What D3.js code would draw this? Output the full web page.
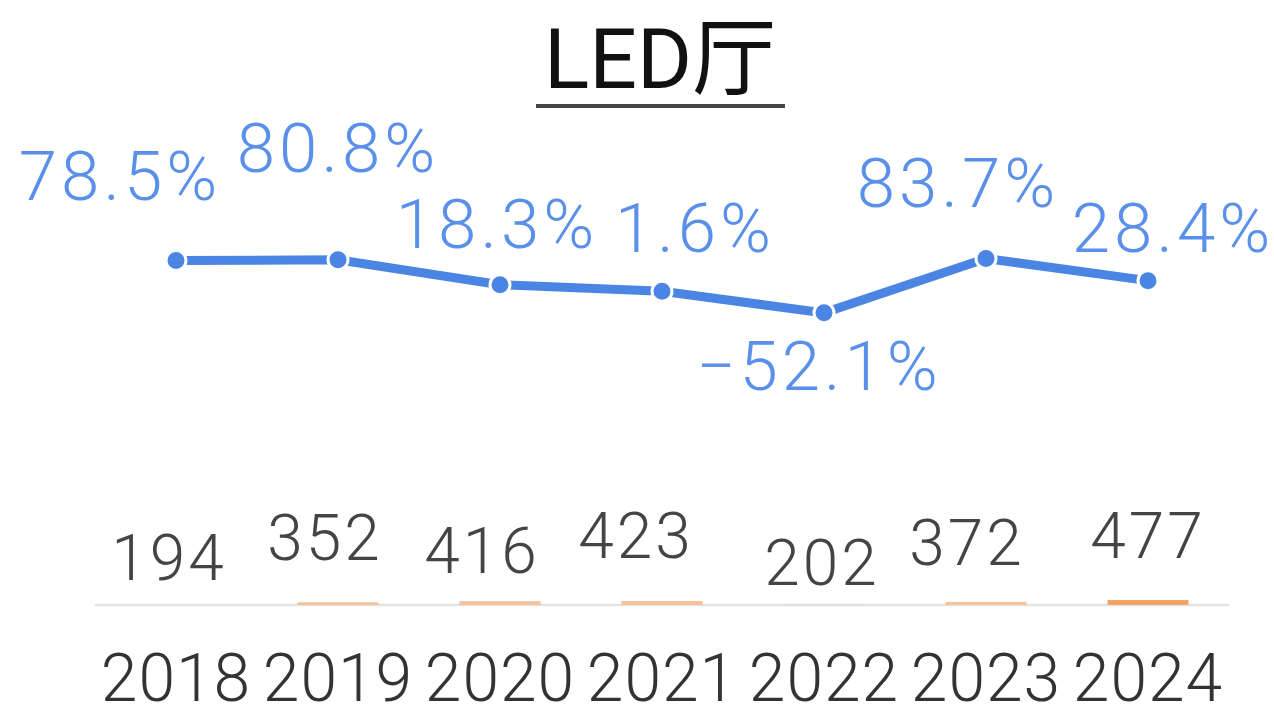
<!DOCTYPE html>
<html>
<head>
<meta charset="utf-8">
<script src="https://cdn.jsdelivr.net/npm/d3@7"></script>
<style>
  body { margin: 0; background: #fff; }
  text { font-family: Roboto, "Liberation Sans", "Noto Sans CJK SC", sans-serif; }
</style>
</head>
<body>
<div id="chart"></div>
<script>
// data
const years = ["2018", "2019", "2020", "2021", "2022", "2023", "2024"]
const counts = [194, 352, 416, 423, 202, 372, 477]
const growth = [78.5, 80.8, 18.3, 1.6, -52.1, 83.7, 28.4]
const growthLabels = ["78.5%", "80.8%", "18.3%", "1.6%", "\u221252.1%", "83.7%", "28.4%"]

// label nudges (layout only)
const growthLabelDx = [-56, 0, -3, 33, -5, -28, 25]
const growthLabelDy = [-61, -88, -37, -39, 77, -52, -29]
const countLabelDx = [-7, -13, -18, -26, -2, -19, 0]
const countLabelY = [580, 560, 573, 558, 585, 565, 558]

const width = 1274
const height = 716
const baselineY = 605

const lineColor = "#4b85e3"
const labelColor = "#5a90ea"

const svg = d3.select("#chart")
  .append("svg")
    .attr("width", width)
    .attr("height", height)

// scales
const xScale = d3.scaleBand()
  .domain(years)
  .range([95, 1229])
  .paddingInner(0.5)
  .paddingOuter(0.25)

const xCenter = d => xScale(d) + xScale.bandwidth() / 2

const yLine = d3.scaleLinear()
  .domain([-60, 100])
  .range([316, 252])

const barHeight = d3.scaleLinear()
  .domain([200, 480])
  .range([0, 5])
  .clamp(true)

// title
svg.append("text")
  .attr("x", 660)
  .attr("y", 88)
  .attr("text-anchor", "middle")
  .attr("fill", "#111")
  .style("font-size", "84px")
  .style("font-weight", 400)
  .text("LED厅")

svg.append("line")
  .attr("x1", 536)
  .attr("x2", 785)
  .attr("y1", 106)
  .attr("y2", 106)
  .attr("stroke", "#444")
  .attr("stroke-width", 4)

// baseline
svg.append("line")
  .attr("x1", 95)
  .attr("x2", 1229)
  .attr("y1", baselineY)
  .attr("y2", baselineY)
  .attr("stroke", "#e2e2e2")
  .attr("stroke-width", 2.5)

// bars
svg.selectAll(".bar")
  .data(counts)
  .join("rect")
    .attr("class", "bar")
    .attr("x", (d, i) => xScale(years[i]))
    .attr("width", xScale.bandwidth())
    .attr("y", d => baselineY - barHeight(d))
    .attr("height", d => barHeight(d))
    .attr("fill", (d, i) => i === counts.length - 1 ? "#f5a263" : "#f6c29a")

// count labels
svg.selectAll(".count")
  .data(counts)
  .join("text")
    .attr("class", "count")
    .attr("x", (d, i) => xCenter(years[i]) + countLabelDx[i])
    .attr("y", (d, i) => countLabelY[i])
    .attr("text-anchor", "middle")
    .attr("fill", "#444")
    .style("font-size", "64px")
    .style("font-weight", 300)
    .style("letter-spacing", "3px")
    .text(d => d)

// x axis labels
const xAxis = svg.append("g")
  .attr("transform", `translate(0, 640)`)
  .call(d3.axisBottom(xScale).tickSize(0).tickPadding(0))
xAxis.select(".domain").remove()
xAxis.selectAll("text")
  .attr("dy", null)
  .attr("y", 61)
  .attr("fill", "#333")
  .style("font-family", "Roboto, 'Liberation Sans', sans-serif")
  .style("font-size", "66px")
  .style("font-weight", 300)
  .style("letter-spacing", "1px")

// growth line
const lineGen = d3.line()
  .x((d, i) => xCenter(years[i]))
  .y(d => yLine(d))

svg.append("path")
  .attr("d", lineGen(growth))
  .attr("fill", "none")
  .attr("stroke", lineColor)
  .attr("stroke-width", 9)

svg.selectAll(".dot")
  .data(growth)
  .join("circle")
    .attr("class", "dot")
    .attr("cx", (d, i) => xCenter(years[i]))
    .attr("cy", d => yLine(d))
    .attr("r", 10)
    .attr("fill", lineColor)
    .attr("stroke", "#fff")
    .attr("stroke-width", 3)

svg.selectAll(".pct")
  .data(growth)
  .join("text")
    .attr("class", "pct")
    .attr("x", (d, i) => xCenter(years[i]) + growthLabelDx[i])
    .attr("y", (d, i) => yLine(d) + growthLabelDy[i])
    .attr("text-anchor", "middle")
    .attr("fill", labelColor)
    .style("font-size", "69px")
    .style("font-weight", 300)
    .style("letter-spacing", "4px")
    .text((d, i) => growthLabels[i])
</script>
</body>
</html>
